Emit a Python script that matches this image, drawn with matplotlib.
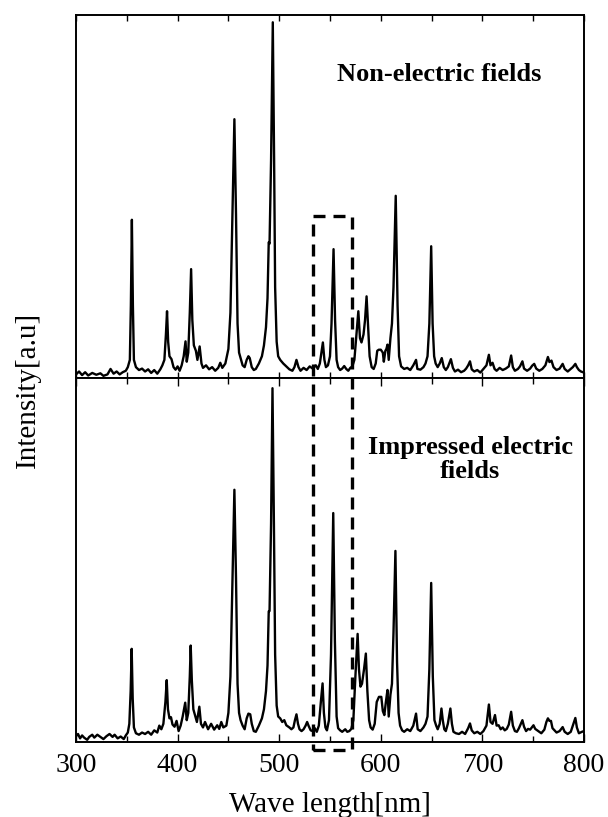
import matplotlib
matplotlib.use("Agg")
import matplotlib.pyplot as plt
from matplotlib.patches import Rectangle
from matplotlib.ticker import MultipleLocator

# spectrum without field (wavelength nm, intensity in % of panel height)
wl_off = [300, 303, 306, 309, 312, 316, 320, 324, 327, 331, 334, 337, 340, 343, 346, 349, 351, 353, 354, 355, 356, 357, 359,
          362, 365, 368, 371, 374, 377, 380, 383, 385, 387, 388.5, 389.6, 390.7, 392, 394, 396, 398, 400, 402, 404, 406,
          407.8, 409, 410.5, 412, 413.3, 414.5, 416, 418, 419.5, 421.7, 423.5, 425, 428, 431, 434, 437, 440, 442, 444,
          447, 450, 452, 454, 455.9, 457.5, 459, 460.5, 462, 464, 466, 468, 469.7, 471, 473, 475, 477, 480, 483, 485,
          487, 488.5, 489.7, 490.5, 492, 493.7, 495, 496, 497.5, 499, 501, 504, 507, 510, 513, 515, 517, 519, 521, 524,
          527, 530, 533, 536, 538, 540, 541.5, 543, 544.5, 546, 548, 550, 551.5, 553.5, 555, 556.5, 558, 560, 562, 564,
          566, 568, 570, 572, 574, 576, 577.9, 579.5, 581, 583, 584.5, 586, 587.5, 589, 591, 593, 595, 596.5, 598, 600,
          602, 603, 604.5, 605.5, 606.6, 607.8, 609.5, 611, 612.5, 614.7, 616.5, 618, 620, 623, 626, 629, 632, 634.7,
          636, 639, 642, 644, 646, 647.8, 649.6, 651, 652.5, 654, 656, 658, 660, 662, 664, 666, 669, 671, 673, 676, 679,
          682, 684, 686, 687.8, 689.5, 692, 695, 698, 701, 704, 706.4, 708, 710, 712, 714, 717, 720, 723, 726, 728.3,
          730, 732, 735, 737, 739.4, 741, 744, 747, 749, 751, 753, 756, 759, 762, 764.5, 766, 768, 770, 773, 776, 779,
          781, 784, 787, 789, 791.5, 793, 795, 797, 800]
int_off = [1.0, 1.8, 0.8, 1.6, 0.7, 1.4, 0.9, 1.3, 0.6, 1.0, 2.5, 1.2, 1.8, 1.0, 1.6, 2.0, 3.0, 5, 20, 43.6, 20, 5, 3.0,
           2.2, 2.6, 1.8, 2.4, 1.4, 2.2, 1.2, 2.4, 3.5, 5, 12, 18.4, 10, 6, 5.2, 3, 2.3, 3.2, 2.0, 3.5, 6,
           10.1, 4.5, 7, 18, 30, 16, 9, 7.5, 5, 8.7, 4, 2.8, 3.5, 2.4, 3.0, 2.0, 2.8, 4.2, 2.8,
           4, 8, 18, 45, 71.3, 45, 15, 7, 5.5, 3.5, 3.0, 5.0, 6, 5.5, 3, 2.2, 2.5, 4, 6, 9,
           14, 22, 37.4, 37, 60, 98, 60, 25, 10, 6, 5, 4, 3.2, 2.4, 2.0, 3, 5, 3, 2.0, 2.8,
           2.2, 3.2, 2.6, 3.5, 2.5, 4, 7, 9.8, 5, 3, 3.5, 6, 15, 35.5, 16, 5, 3.0, 2.2, 2.6, 3.3,
           2.5, 2.0, 2.8, 3.2, 5, 12, 18.4, 11, 9.8, 12, 16, 22.5, 14, 6, 3, 2.5, 4, 7.5, 7.8, 7.8,
           7, 4.5, 7.5, 8, 9.2, 5.0, 11, 15, 25, 50.2, 20, 6, 3.2, 2.5, 2.8, 2.2, 3.5, 5,
           2.5, 2.3, 3.0, 4, 6, 15, 36.3, 15, 6, 4, 3, 4, 5.5, 3, 2.2, 3, 5.2, 2.8, 1.8, 2.3, 1.6,
           2.0, 2.6, 3.5, 4.6, 2.4, 1.8, 2.2, 1.5, 2.5, 3.5, 6.4, 3.5, 4.2, 2.5, 2.0, 2.8, 2.2, 2.6, 3.2, 6.2,
           3.0, 2.0, 2.5, 3.2, 4.6, 2.6, 2.0, 2.6, 3.4, 3.9, 2.6, 2.0, 2.5, 3.5, 5.8, 4.4, 4.8, 3.0, 2.2, 2.6, 3.9,
           2.5, 1.8, 2.5, 3.0, 3.9, 3.0, 2.2, 1.8, 1.5]

# spectrum with impressed electric field
wl_on = [300, 302, 304, 306, 308, 311, 313, 316, 318, 321, 324, 327, 330, 333, 336, 338, 341, 344, 347, 349, 351, 352.5,
         353.8, 354.8, 355.8, 357, 359, 362, 365, 368, 371, 374, 377, 380, 382, 384, 386, 388, 389.3, 390.5, 392, 393.5,
         395, 397, 399, 401, 403, 405, 407.5, 409, 410.5, 412, 412.9, 414, 415.5, 417, 419, 421.4, 423, 425, 427, 430,
         433, 436, 439, 441, 443, 445, 448, 450, 452, 454, 455.9, 457.5, 459, 460.5, 462, 464, 466, 468, 469.7, 471.5,
         473, 475, 477, 480, 483, 485, 487, 488.5, 489.7, 490.5, 492, 493.4, 494.8, 496, 497.5, 499, 501, 503, 505, 507,
         510, 512, 514, 515.5, 517, 518.5, 520, 522, 524, 526, 527.5, 529, 531, 533, 535, 537, 539, 541, 542.7, 544,
         545.5, 547, 549, 551, 553.2, 554.8, 556.5, 558, 560, 562, 565, 567, 569, 571, 573, 575, 577.2, 578.5, 580,
         581.5, 583.5, 585.3, 586.8, 588.5, 590, 592, 594, 596, 598.2, 600.5, 602, 603.5, 605, 606.6, 607.8, 609.5,
         611, 612.5, 614.4, 616, 617.5, 619, 621, 623, 626, 629, 632, 634.7, 636.3, 639, 642, 644, 646, 647.8, 649.6,
         651.2, 652.8, 654.5, 656, 658, 659.7, 661, 662.5, 664, 666, 668.5, 670, 671.5, 674, 677, 680, 683, 686, 687.8,
         689.5, 692, 695, 698, 701, 704, 706.4, 708, 710, 712.4, 714, 716, 718, 720, 722, 724, 726, 728.3, 730, 732,
         734, 736, 739.4, 741, 743, 745, 747, 750.3, 752, 755, 758, 761, 763, 764.5, 766, 767.5, 769, 771, 773, 776,
         779, 781, 784, 787, 789, 791.5, 793, 795, 798, 800]
int_on = [1.6, 2.2, 1.0, 1.8, 1.2, 0.6, 1.4, 2.0, 1.2, 2.0, 1.4, 0.8, 1.6, 2.2, 1.4, 2.0, 1.0, 1.5, 0.8, 1.8, 2.6, 5,
          14, 25.6, 12, 4, 2.4, 2.0, 2.6, 2.2, 2.8, 2.0, 3.2, 2.6, 4.5, 3.5, 5, 11, 17.0, 9, 6.5, 6.8,
          4.8, 4.2, 5.8, 3.0, 4.5, 7, 10.8, 6.0, 8, 18, 26.5, 17, 9, 7.5, 5.5, 9.7, 5, 4, 5.5, 3.5,
          5, 3.4, 4.6, 3.6, 5.5, 4, 4.5, 8, 18, 45, 69.3, 45, 16, 8, 6, 4.5, 3.5, 6.5, 7.8, 7.6,
          5, 3.0, 2.8, 4.5, 6.5, 9, 14, 21, 35.9, 36, 60, 97.2, 60, 24, 10, 7, 6.5, 5.5, 6, 4.6,
          4.0, 3.5, 4, 6, 7.6, 5.0, 3.5, 3.0, 3.5, 4.5, 5.5, 4.4, 3.2, 3.0, 3.8, 2.8, 4.5, 11, 16.1, 8,
          4, 3.2, 6, 24, 62.9, 28, 7, 3.8, 3.2, 2.8, 3.5, 2.8, 3.0, 3.6, 6, 18, 29.7, 20, 15.2,
          16, 20, 24.3, 14, 6, 4, 3.4, 5, 11, 12.4, 12.4, 8.5, 7.4, 11, 14.3, 7.0, 13,
          16, 30, 52.5, 22, 8, 4.5, 3.2, 2.8, 3.5, 3.0, 4.5, 7.8, 3.5, 3.0, 4, 5, 7, 20, 43.7,
          18, 6, 4.5, 3.5, 5, 9.2, 6, 3.5, 3.0, 5, 9.2, 5, 2.8, 2.4, 2.2, 2.8, 2.2, 3.8, 5.1,
          3.2, 2.4, 2.8, 2.2, 3.0, 4.5, 10.3, 5.5, 5.0, 7.4, 4.5, 4.6, 3.5, 4.0, 3.2, 3.6, 4.8, 8.3, 4.5, 3.0,
          2.8, 3.8, 6.0, 4.2, 3.0, 3.6, 3.4, 4.6, 3.6, 3.0, 2.4, 3.4, 5.5, 6.5, 5.8, 5.8, 3.8, 3.2, 2.6, 3.0,
          4.1, 2.8, 2.2, 2.8, 4.5, 6.6, 4, 2.4, 2.8, 3.0]

# dashed box marking the changed line
box_nm = (533.3, 571.7)
box_top = 44.6      # in upper panel units
box_bottom = -2.2   # in lower panel units

plt.rcParams['font.family'] = ['Liberation Serif', 'DejaVu Serif']

fig = plt.figure(figsize=(6.08, 8.17), dpi=100)
ax1 = fig.add_axes([0.125, 0.5373, 0.8355, 0.4443])
ax2 = fig.add_axes([0.125, 0.0918, 0.8355, 0.4455])

for ax, x, y in [(ax1, wl_off, int_off), (ax2, wl_on, int_on)]:
    ax.plot(x, y, color='black', lw=1.7)
    ax.set_xlim(300, 800)
    ax.set_ylim(0, 100)
    ax.set_yticks([])
    ax.xaxis.set_major_locator(MultipleLocator(100))
    ax.xaxis.set_minor_locator(MultipleLocator(50))
    for s in ax.spines.values():
        s.set_linewidth(1.4)

ax1.tick_params(axis='x', which='both', direction='in', top=True, bottom=True,
                labelbottom=False, length=4.5, width=1.0)
ax2.tick_params(axis='x', which='both', direction='in', top=True, bottom=True,
                labelsize=20, pad=8, width=1.0)
ax2.tick_params(axis='x', which='major', length=5.5)
ax2.tick_params(axis='x', which='minor', length=4)

ax2.set_xlabel('Wave length[nm]', fontsize=21, labelpad=10)
fig.text(0.046, 0.523, 'Intensity[a.u]', rotation=90, fontsize=21, ha='center', va='center')

ax1.text(657, 83.5, 'Non-electric fields', fontsize=19, fontweight='bold', ha='center', va='center')
ax2.text(688, 77.5, 'Impressed electric\nfields', fontsize=19, fontweight='bold', ha='center', va='center',
         linespacing=1.05)

# box spans both panels: convert corners to figure coordinates
inv = fig.transFigure.inverted()
x0, y0 = inv.transform(ax2.transData.transform((box_nm[0], box_bottom)))
x1, y1 = inv.transform(ax1.transData.transform((box_nm[1], box_top)))
rect = Rectangle((x0, y0), x1 - x0, y1 - y0, transform=fig.transFigure, fill=False,
                 edgecolor='black', lw=2.4, linestyle=(0, (3.6, 2.4)), clip_on=False, zorder=10)
fig.patches.append(rect)

fig.savefig('out.png', dpi=100)
